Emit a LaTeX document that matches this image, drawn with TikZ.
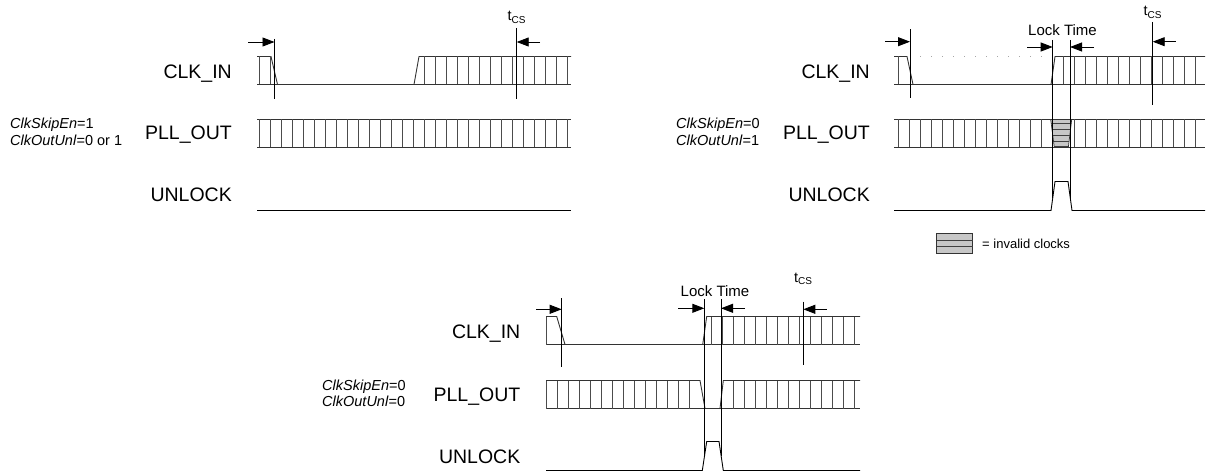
\documentclass[tikz,border=0pt]{standalone}
\usepackage{fontspec}
\setmainfont{Liberation Sans}
\usetikzlibrary{arrows.meta}
\newcommand{\tcslabel}{t\raisebox{-2.6pt}{\fontsize{10}{10}\selectfont CS}}
\begin{document}
\begin{tikzpicture}[x=1pt,y=-1pt,
  sig/.style={line width=0.9pt, black!80},
  tck/.style={line width=0.55pt, black!70},
  vmark/.style={line width=0.95pt, black},
  arr/.style={-{Triangle[length=12pt,width=9pt]}, line width=0.9pt, black},
  dotline/.style={line width=0.7pt, black!35, dash pattern=on 0.8pt off 10.2pt},
  inval/.style={fill=black!22, draw=black!80, line width=0.7pt},
  lbl/.style={anchor=base east, inner sep=0pt, font=\fontsize{19.5}{22}\selectfont},
  cfg/.style={anchor=west, align=left, inner sep=0pt, font=\fontsize{14.5}{16.5}\selectfont},
  tcs/.style={anchor=base, inner sep=0pt, font=\fontsize{14.5}{16}\selectfont},
  lock/.style={anchor=base, inner sep=0pt, font=\fontsize{15}{17}\selectfont},
  leg/.style={anchor=west, inner sep=0pt, font=\fontsize{13}{15}\selectfont}]
\useasboundingbox (0,0) rectangle (1206,473);

% ================= TOP LEFT =================
\node[lbl] (clkA) at (232,78.3) {CLK\_IN};
\node[lbl] (pllA) at (232,140) {PLL\_OUT};
\node[lbl] (unlA) at (232,201.7) {UNLOCK};
\node[cfg] (cfgA) at (10,132) {\textit{ClkSkipEn}=1\\\textit{ClkOutUnl}=0 or 1};
% CLK_IN
\draw[sig] (257,56.5) -- (271,56.5) -- (277.5,84.5);
\draw[sig] (257,84.5) -- (571,84.5);
\draw[sig] (414,84.5) -- (419,56.5) -- (571,56.5);
\foreach \k in {0,1,15,16,...,28} \draw[tck] ({259.3+11*\k},56.5) -- ({259.3+11*\k},84.5);
% PLL_OUT
\draw[sig] (257,119.5) -- (571,119.5);
\draw[sig] (257,147.5) -- (571,147.5);
\foreach \k in {0,...,28} \draw[tck] ({259.3+11*\k},119.5) -- ({259.3+11*\k},147.5);
% UNLOCK
\draw[sig,black] (257,210.5) -- (571,210.5);
% markers
\coordinate (mA1) at (274.5,42);
\coordinate (mA2) at (516.7,42);
\draw[vmark] (274.5,39) -- (274.5,99);
\draw[vmark] (516.7,28) -- (516.7,99);
\draw[arr] (248,42) -- (mA1);
\draw[arr] (540,42) -- (mA2);
\node[tcs] (tcsA) at (516.5,21) {\tcslabel};

% ================= TOP RIGHT =================
\node[lbl] (clkB) at (870,78.3) {CLK\_IN};
\node[lbl] (pllB) at (870,140) {PLL\_OUT};
\node[lbl] (unlB) at (870,201.7) {UNLOCK};
\node[cfg] (cfgB) at (676,132) {\textit{ClkSkipEn}=0\\\textit{ClkOutUnl}=1};
% CLK_IN
\draw[sig] (894,56.5) -- (907,56.5) -- (913,84.5);
\draw[sig] (894,84.5) -- (1205,84.5);
\draw[sig] (1051,84.5) -- (1055,56.5) -- (1205,56.5);
\draw[dotline] (920,56.5) -- (1046,56.5);
\foreach \k in {0,15,16,...,27} \draw[tck] ({898+11*\k},56.5) -- ({898+11*\k},84.5);
% PLL_OUT
\draw[sig] (894,119.5) -- (1205,119.5);
\draw[sig] (894,147.5) -- (1205,147.5);
\foreach \k in {0,...,13,16,17,...,27} \draw[tck] ({898+11*\k},119.5) -- ({898+11*\k},147.5);
\filldraw[inval] (1050.7,119.5) -- (1071.7,119.5) -- (1068.3,147.5) -- (1054.3,147.5) -- cycle;
\begin{scope}
\clip (1050.7,119.5) -- (1071.7,119.5) -- (1068.3,147.5) -- (1054.3,147.5) -- cycle;
\foreach \yy in {123.5,129.5,135.5,141.5} \draw[line width=0.8pt, black!75] (1045,\yy) -- (1078,\yy);
\draw[line width=1.6pt, black!75] (1045,146.5) -- (1078,146.5);
\end{scope}
% UNLOCK
\draw[sig,black] (894,210.5) -- (1051,210.5) -- (1055,181.5) -- (1068,181.5) -- (1072,210.5) -- (1205,210.5);
% markers
\coordinate (mB1) at (910,41.7);
\coordinate (mB2) at (1052.7,47);
\coordinate (mB3) at (1070,47);
\coordinate (mB4) at (1152.7,41.7);
\draw[vmark] (910,29.3) -- (910,98.3);
\draw[vmark] (1052.7,40) -- (1052.7,198);
\draw[vmark] (1070,40) -- (1070,198);
\draw[vmark] (1152.7,22) -- (1152.7,105);
\draw[arr] (885,41.7) -- (mB1);
\draw[arr] (1027,47) -- (mB2);
\draw[arr] (1094,47) -- (mB3);
\draw[arr] (1175.7,41.7) -- (mB4);
\node[lock] (lockB) at (1062.5,36) {Lock Time};
\node[tcs] (tcsB) at (1152.5,15.5) {\tcslabel};
% legend
\filldraw[inval] (936.7,233.3) rectangle (972.7,253.3);
\draw[line width=0.7pt, black!75] (936.7,240) -- (972.7,240);
\draw[line width=0.7pt, black!75] (936.7,246.7) -- (972.7,246.7);
\node[leg] (legtxt) at (982,243.5) {= invalid clocks};

% ================= BOTTOM =================
\node[lbl] (clkC) at (520.5,338.5) {CLK\_IN};
\node[lbl] (pllC) at (520.5,401.7) {PLL\_OUT};
\node[lbl] (unlC) at (520.5,463) {UNLOCK};
\node[cfg] (cfgC) at (322,393.5) {\textit{ClkSkipEn}=0\\\textit{ClkOutUnl}=0};
% CLK_IN
\draw[sig] (546,316.5) -- (556.7,316.5) -- (565,344.5);
\draw[sig] (546,344.5) -- (860,344.5);
\draw[sig] (702.7,344.5) -- (706.7,316.5) -- (860,316.5);
\foreach \k in {0,...,13} \draw[tck] ({711.3+11*\k},316.5) -- ({711.3+11*\k},344.5);
\draw[tck] (546.3,316.5) -- (546.3,344.5);
% PLL_OUT
\draw[sig] (546,380.5) -- (700,380.5) -- (705,408.5);
\draw[sig] (546,408.5) -- (860,408.5);
\draw[sig] (720,408.5) -- (723.3,380.5) -- (860,380.5);
\foreach \k in {0,...,13} \draw[tck] ({546.3+11*\k},380.5) -- ({546.3+11*\k},408.5);
\foreach \k in {0,...,11} \draw[tck] ({733.3+11*\k},380.5) -- ({733.3+11*\k},408.5);
% UNLOCK
\draw[sig,black] (546,470.5) -- (702.3,470.5) -- (706.7,441.5) -- (719,441.5) -- (723.3,470.5) -- (860,470.5);
% markers
\coordinate (mC1) at (561.7,309.3);
\coordinate (mC2) at (704.3,308.3);
\coordinate (mC3) at (721,308.3);
\coordinate (mC4) at (803.3,309.3);
\draw[vmark] (561.7,298) -- (561.7,366.7);
\draw[vmark] (704.3,299) -- (704.3,456);
\draw[vmark] (721,299) -- (721,456);
\draw[vmark] (803.3,301.7) -- (803.3,365);
\draw[arr] (536,309.3) -- (mC1);
\draw[arr] (678,308.3) -- (mC2);
\draw[arr] (745,308.3) -- (mC3);
\draw[arr] (826.7,309.3) -- (mC4);
\node[lock] (lockC) at (715,296.5) {Lock Time};
\node[tcs] (tcsC) at (803,282) {\tcslabel};
\end{tikzpicture}
\end{document}
